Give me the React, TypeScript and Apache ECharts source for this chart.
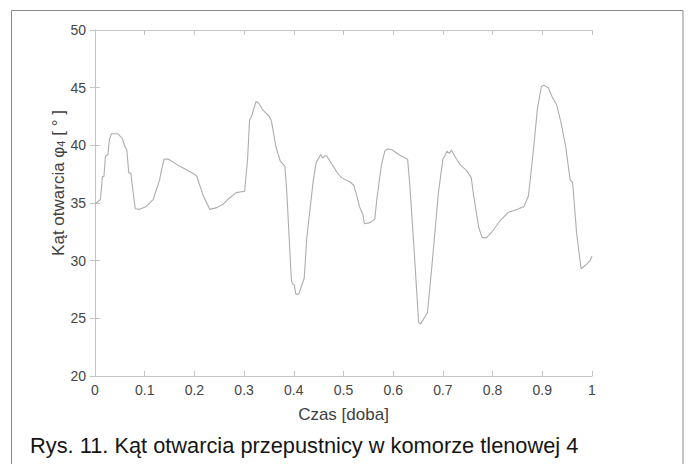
import React, { useEffect, useRef } from "react";
import * as echarts from "echarts";

const timeDays = [
  0, 0.011, 0.015, 0.018, 0.021, 0.026, 0.029, 0.033, 0.046, 0.055, 0.06, 0.064, 0.068, 0.072, 0.081, 0.09,
  0.103, 0.117, 0.13, 0.134, 0.139, 0.148, 0.17, 0.2, 0.205, 0.218, 0.231, 0.245, 0.258, 0.267, 0.284,
  0.298, 0.301, 0.307, 0.311, 0.315, 0.324, 0.329, 0.337, 0.351, 0.355, 0.364, 0.373, 0.382, 0.386,
  0.395, 0.397, 0.401, 0.404, 0.41, 0.421, 0.426, 0.439, 0.445, 0.454, 0.458, 0.463, 0.466, 0.479,
  0.488, 0.496, 0.514, 0.521, 0.527, 0.532, 0.539, 0.542, 0.554, 0.563, 0.567, 0.576, 0.583, 0.589,
  0.598, 0.611, 0.629, 0.633, 0.642, 0.651, 0.655, 0.669, 0.678, 0.691, 0.7, 0.704, 0.708, 0.713,
  0.717, 0.726, 0.735, 0.748, 0.757, 0.761, 0.772, 0.779, 0.788, 0.797, 0.814, 0.832, 0.85, 0.863,
  0.872, 0.881, 0.89, 0.898, 0.903, 0.912, 0.92, 0.929, 0.938, 0.947, 0.956, 0.961, 0.969, 0.978,
  0.987, 0.996, 1.0,
];

const angleDeg = [
  34.9, 35.3, 37.3, 37.3, 39.06, 39.2, 40.5, 41.0, 41.0, 40.6, 39.9, 39.6, 37.6, 37.6, 34.5, 34.45,
  34.7, 35.3, 37.0, 37.9, 38.8, 38.8, 38.2, 37.5, 37.3, 35.6, 34.45, 34.6, 34.9, 35.3, 35.9,
  36.0, 36.0, 38.8, 42.2, 42.5, 43.8, 43.7, 43.1, 42.5, 42.1, 39.9, 38.6, 38.2, 35.9,
  28.4, 28.0, 27.9, 27.1, 27.1, 28.5, 31.9, 36.9, 38.5, 39.2, 38.9, 39.1, 39.1, 38.2,
  37.6, 37.2, 36.8, 36.5, 35.6, 34.7, 34.0, 33.2, 33.3, 33.6, 35.3, 38.2, 39.5, 39.7,
  39.6, 39.2, 38.8, 36.8, 31.0, 24.7, 24.5, 25.5, 29.6, 35.9, 38.8, 39.1, 39.5, 39.3,
  39.6, 38.9, 38.3, 37.8, 37.2, 35.9, 32.9, 32.0, 32.0, 32.4, 33.4, 34.2, 34.45, 34.7,
  35.6, 39.1, 43.1, 45.1, 45.2, 45.0, 44.2, 43.5, 41.9, 39.9, 37.0, 36.8, 32.4, 29.3,
  29.6, 30.0, 30.4,
];

const xTitle = "Czas [doba]";
const caption = "Rys. 11. Kąt otwarcia przepustnicy w komorze tlenowej 4";

export default function App() {
  const ref = useRef<HTMLDivElement>(null);
  useEffect(() => {
    document.body.style.margin = "0";
    if (!ref.current) return;
    const chart = echarts.init(ref.current, null, { renderer: "svg" });
    const axisColor = "#c4c4c4";
    const font = "Liberation Sans, Arial, sans-serif";
    const labelStyle = { color: "#454545", fontSize: 14, fontFamily: font };
    const data = timeDays.map((t, i) => [t, angleDeg[i]]);
    chart.setOption({
      animation: false,
      backgroundColor: "#ffffff",
      grid: { left: 95, right: 96, top: 30, bottom: 88, containLabel: false },
      xAxis: [
        {
          type: "value",
          min: 0,
          max: 1,
          interval: 0.1,
          position: "bottom",
          name: xTitle,
          nameLocation: "middle",
          nameGap: 30,
          nameTextStyle: { color: "#404040", fontSize: 17, fontFamily: font },
          axisLine: { lineStyle: { color: axisColor, width: 1 } },
          axisTick: { inside: true, length: 5, lineStyle: { color: axisColor } },
          axisLabel: { ...labelStyle, margin: 7, formatter: (v: number) => String(Math.round(v * 10) / 10) },
          splitLine: { show: false },
        },
        {
          type: "value",
          min: 0,
          max: 1,
          interval: 0.1,
          position: "top",
          axisLine: { show: true, lineStyle: { color: axisColor, width: 1 } },
          axisTick: { show: true, inside: true, length: 5, lineStyle: { color: axisColor } },
          axisLabel: { show: false },
          splitLine: { show: false },
        },
      ],
      yAxis: [
        {
          type: "value",
          min: 20,
          max: 50,
          interval: 5,
          position: "left",
          axisLine: { show: true, lineStyle: { color: axisColor, width: 1 } },
          axisTick: { show: true, inside: true, length: 5, lineStyle: { color: axisColor } },
          axisLabel: { ...labelStyle, margin: 9 },
          splitLine: { show: false },
        },
        {
          type: "value",
          min: 20,
          max: 50,
          interval: 5,
          position: "right",
          axisLine: { show: true, lineStyle: { color: axisColor, width: 1 } },
          axisTick: { show: true, inside: true, length: 5, lineStyle: { color: axisColor } },
          axisLabel: { show: false },
          splitLine: { show: false },
        },
      ],
      series: [
        {
          type: "line",
          data,
          xAxisIndex: 0,
          yAxisIndex: 0,
          showSymbol: false,
          symbol: "none",
          lineStyle: { color: "#adadad", width: 1.1 },
        },
      ],
      graphic: [
        {
          type: "rect",
          shape: { x: 11.5, y: 10.5, width: 671.5, height: 480 },
          style: { fill: "none", stroke: "#8a8a8a", lineWidth: 1 },
          silent: true,
        },
        {
          type: "text",
          x: 58,
          y: 183,
          rotation: Math.PI / 2,
          style: {
            text: "Kąt otwarcia {s|φ}{sub|4} [ ° ]",
            fill: "#404040",
            fontSize: 17,
            fontFamily: font,
            align: "center",
            verticalAlign: "middle",
            rich: {
              s: { fontSize: 17, fill: "#404040", fontFamily: font },
              sub: { fontSize: 11, fill: "#404040", verticalAlign: "bottom", padding: [6, 0, 0, 0], fontFamily: font },
            },
          },
        },
        {
          type: "text",
          x: 30,
          y: 456,
          style: {
            text: caption,
            fill: "#151515",
            fontSize: 21.8,
            fontFamily: font,
            align: "left",
            verticalAlign: "bottom",
          },
        },
      ],
    });
    return () => chart.dispose();
  }, []);
  return <div ref={ref} style={{ width: 688, height: 464 }} />;
}
